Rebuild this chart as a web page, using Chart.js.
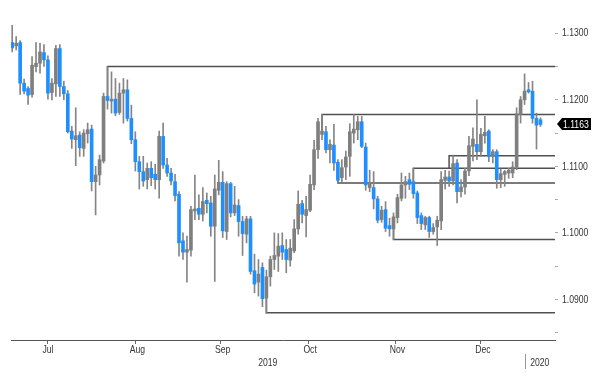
<!DOCTYPE html>
<html><head><meta charset="utf-8">
<script src="https://cdn.jsdelivr.net/npm/chart.js@4.4.1/dist/chart.umd.min.js"></script>
<style>html,body{margin:0;padding:0;background:#fff;}#wrap{width:600px;height:380px;}</style>
</head><body><div id="wrap"><canvas id="c" width="600" height="380"></canvas></div>
<script>
// ---- data (EUR/USD daily) ----
const firstDate = '2019-07-03';
const lastDate = '2020-01-06';
const open = [
 1.1286,1.1281,1.1286,1.1225,1.1217,1.1208,1.1250,1.1255,1.1271,1.1260,1.1211,1.1224,1.1277,1.1220,1.1209,1.1153,1.1140,1.1147,1.1127,1.1149,1.1156,
 1.1077,1.1087,1.1108,1.1205,1.1198,1.1201,1.1181,1.1210,1.1215,1.1172,1.1140,1.1107,1.1092,1.1080,1.1097,1.1088,1.1080,1.1145,1.1102,1.1090,1.1077,1.1058,
 1.0988,1.0971,1.0974,1.1033,1.1037,1.1028,1.1049,1.1045,1.1010,1.1064,1.1076,1.1002,1.1074,1.1030,1.1041,1.1017,1.0998,1.1021,1.0943,1.0926,1.0948,
 1.0902,1.0934,1.0960,1.0965,1.0981,1.0975,1.0959,1.0973,1.1006,1.1044,1.1026,1.1034,1.1072,1.1125,1.1148,1.1152,1.1125,1.1132,1.1106,1.1083,1.1099,1.1115,1.1150,
 1.1155,1.1167,1.1129,1.1068,1.1068,1.1051,1.1020,1.1035,1.1011,1.1006,1.1023,1.1052,1.1072,1.1080,1.1077,1.1060,1.1026,1.1012,1.1023,1.1002,1.1009,
 1.1018,1.1079,1.1084,1.1078,1.1105,1.1062,1.1069,1.1093,1.1130,1.1133,1.1122,1.1146,1.1153,1.1115,1.1122,1.1080,1.1088,1.1090,1.1090,1.1099,1.1178,1.1200,
 1.1215,1.1213,1.1172,1.1170];
const high = [
 1.1312,1.1295,1.1289,1.1231,1.1220,1.1265,1.1286,1.1285,1.1283,1.1266,1.1232,1.1282,1.1283,1.1228,1.1214,1.1160,1.1188,1.1152,1.1155,1.1165,1.1162,
 1.1100,1.1117,1.1210,1.1250,1.1242,1.1232,1.1225,1.1232,1.1230,1.1192,1.1152,1.1115,1.1115,1.1105,1.1107,1.1103,1.1153,1.1165,1.1112,1.1097,1.1088,1.1062,
 1.1000,1.0995,1.1040,1.1087,1.1057,1.1068,1.1060,1.1055,1.1087,1.1109,1.1092,1.1077,1.1076,1.1070,1.1050,1.1025,1.1025,1.1025,1.0968,1.0960,1.0955,
 1.0944,1.0965,1.1000,1.0999,1.1000,1.0990,1.0990,1.1020,1.1063,1.1049,1.1055,1.1087,1.1139,1.1172,1.1178,1.1160,1.1140,1.1163,1.1110,1.1110,1.1123,1.1164,1.1178,
 1.1175,1.1175,1.1135,1.1094,1.1092,1.1055,1.1040,1.1047,1.1022,1.1030,1.1058,1.1090,1.1085,1.1090,1.1097,1.1063,1.1030,1.1025,1.1025,1.1014,1.1025,
 1.1092,1.1094,1.1093,1.1117,1.1110,1.1080,1.1097,1.1145,1.1158,1.1200,1.1157,1.1175,1.1155,1.1125,1.1125,1.1096,1.1094,1.1097,1.1107,1.1188,1.1205,1.1239,
 1.1226,1.1228,1.1180,1.1173];
const low = [
 1.1272,1.1275,1.1208,1.1209,1.1193,1.1204,1.1242,1.1240,1.1250,1.1201,1.1200,1.1205,1.1205,1.1200,1.1150,1.1127,1.1101,1.1115,1.1115,1.1135,1.1063,
 1.1027,1.1072,1.1105,1.1186,1.1180,1.1176,1.1178,1.1165,1.1168,1.1134,1.1093,1.1066,1.1070,1.1066,1.1071,1.1066,1.1052,1.1097,1.1085,1.1072,1.1048,1.0965,
 1.0960,1.0926,1.0965,1.1020,1.1020,1.1018,1.1030,1.0995,1.0927,1.1057,1.0993,1.0990,1.1024,1.1026,1.0995,1.0966,1.0985,1.0938,1.0910,1.0905,1.0889,
 1.0879,1.0920,1.0945,1.0942,1.0960,1.0940,1.0950,1.0970,1.0998,1.1015,1.0994,1.1032,1.1065,1.1112,1.1140,1.1120,1.1105,1.1094,1.1074,1.1076,1.1080,1.1085,1.1135,
 1.1140,1.1128,1.1064,1.1062,1.1036,1.1015,1.1016,1.1002,1.0995,1.0990,1.1015,1.1048,1.1052,1.1065,1.1052,1.1014,1.1005,1.1005,1.0993,1.0998,1.0981,
 1.1005,1.1066,1.1070,1.1072,1.1045,1.1054,1.1058,1.1086,1.1108,1.1110,1.1115,1.1135,1.1107,1.1105,1.1067,1.1068,1.1070,1.1082,1.1083,1.1095,1.1165,1.1193,
 1.1210,1.1165,1.1126,1.1160];
const close = [
 1.1278,1.1285,1.1225,1.1213,1.1207,1.1252,1.1255,1.1272,1.1260,1.1210,1.1225,1.1277,1.1220,1.1209,1.1152,1.1141,1.1146,1.1128,1.1150,1.1155,1.1077,
 1.1087,1.1110,1.1205,1.1199,1.1201,1.1180,1.1210,1.1215,1.1172,1.1140,1.1107,1.1092,1.1078,1.1097,1.1083,1.1080,1.1145,1.1102,1.1090,1.1078,1.1056,1.0985,
 1.0971,1.0975,1.1035,1.1036,1.1028,1.1047,1.1044,1.1010,1.1066,1.1076,1.1003,1.1074,1.1030,1.1042,1.1017,1.0999,1.1021,1.0942,1.0923,1.0938,1.0901,
 1.0934,1.0960,1.0966,1.0980,1.0971,1.0960,1.0977,1.1006,1.1043,1.1028,1.1035,1.1073,1.1125,1.1167,1.1153,1.1125,1.1133,1.1105,1.1079,1.1098,1.1114,1.1152,1.1156,
 1.1167,1.1130,1.1072,1.1073,1.1051,1.1019,1.1034,1.1007,1.1006,1.1024,1.1053,1.1072,1.1077,1.1073,1.1059,1.1023,1.1014,1.1023,1.1002,1.1008,1.1019,
 1.1080,1.1084,1.1078,1.1104,1.1062,1.1069,1.1093,1.1131,1.1141,1.1122,1.1148,1.1151,1.1115,1.1122,1.1080,1.1089,1.1092,1.1094,1.1099,1.1179,1.1200,1.1213,
 1.1212,1.1172,1.1162,1.1163];

// horizontal support / resistance lines
const levelValues = [1.1250, 1.1178, 1.1116, 1.1097, 1.1075, 1.0990, 1.0880];
const levelFrom   = ['2019-08-06','2019-10-21','2019-12-04','2019-11-21','2019-10-25','2019-11-14','2019-10-01'];
const levelAnchor = [1.1205, 1.1150, 1.1097, 1.1077, 1.1105, 1.1010, 1.0902];

const monthLabels = ['Jul','Aug','Sep','Oct','Nov','Dec'];
const yearLabels = ['2019','2020'];
const priceLabels = [1.09, 1.10, 1.11, 1.12, 1.13];
const priceMinor = [1.085, 1.095, 1.105, 1.115, 1.125];

// ---- calendar of trading days ----
function tradingDays(from, to){
  const out=[]; let d=new Date(from+'T00:00:00Z'); const e=new Date(to+'T00:00:00Z');
  while(d<=e){ const w=d.getUTCDay(); if(w!==0&&w!==6) out.push(d.toISOString().slice(0,10)); d=new Date(d.getTime()+86400000); }
  return out;
}
const calendar = tradingDays('2019-07-01', lastDate);
const startIdx = calendar.indexOf(firstDate);
const dates = calendar.slice(startIdx);
const xOf = k => startIdx + k;
const idxOfDate = d => calendar.indexOf(d);

const monthKeys = ['2019-07','2019-08','2019-09','2019-10','2019-11','2019-12'];
const monthIdx = m => calendar.map((d,i)=>d.startsWith(m)?i:-1).filter(i=>i>=0);
const monthCenters = monthKeys.map(m=>{ const ids=monthIdx(m); return (ids[0]+ids[ids.length-1])/2; });
const monthEnds = monthKeys.map(m=>{ const ids=monthIdx(m); return ids[ids.length-1]; });
const yearEnd = monthEnds[monthEnds.length-1];

const X_MIN = 1.70, X_MAX = 138.66;
const FONT = '11.5px "Liberation Sans", Arial, sans-serif';
const SX = 0.75;
const TXT = '#333';
const GREY = '#7f7f7f', BLUE = '#1e8fff';

const levelSets = levelValues.map((v,j)=>({
  type:'line',
  data:[{x:idxOfDate(levelFrom[j]), y:levelAnchor[j]},{x:idxOfDate(levelFrom[j]), y:v},{x:X_MAX, y:v}],
  borderColor:'#505050', borderWidth:1.5, pointRadius:0, tension:0, fill:false, order:3
}));

function txt(ctx, s, x, y, align){
  ctx.save(); ctx.translate(x, y); ctx.scale(SX, 1);
  ctx.textAlign = align; ctx.textBaseline = 'middle'; ctx.fillText(s, 0, 0);
  ctx.restore();
}

const decor = {
  id:'decor',
  afterDraw(chart){
    const {ctx, scales:{x,y}, chartArea:a} = chart;
    ctx.save();
    ctx.font = FONT; ctx.fillStyle = TXT;
    // month labels
    monthCenters.forEach((v,i)=> txt(ctx, monthLabels[i], x.getPixelForValue(v), a.bottom+10, 'center'));
    // year labels + separator
    const yb = x.getPixelForValue(yearEnd);
    txt(ctx, yearLabels[0], (a.left+yb)/2, a.bottom+23, 'center');
    txt(ctx, yearLabels[1], (yb+a.right)/2, a.bottom+23, 'center');
    ctx.strokeStyle='#999'; ctx.lineWidth=1;
    ctx.beginPath(); ctx.moveTo(Math.round(yb)+0.5, a.bottom+14); ctx.lineTo(Math.round(yb)+0.5, a.bottom+29); ctx.stroke();
    // price labels
    priceLabels.forEach(v => txt(ctx, v.toFixed(4), a.right+7, y.getPixelForValue(v), 'left'));
    // last price tag
    const last = close[close.length-1];
    const py = Math.round(y.getPixelForValue(last));
    const x0 = a.right+2;
    ctx.fillStyle='#000';
    ctx.beginPath(); ctx.moveTo(x0,py); ctx.lineTo(x0+5,py-6); ctx.lineTo(x0+34,py-6); ctx.lineTo(x0+34,py+6); ctx.lineTo(x0+5,py+6); ctx.closePath(); ctx.fill();
    ctx.fillStyle='#fff';
    txt(ctx, last.toFixed(4), x0+6, py+0.5, 'left');
    ctx.restore();
  }
};

new Chart(document.getElementById('c'), {
  type:'bar',
  data:{ datasets:[
    ...levelSets,
    { type:'bar', data: dates.map((d,k)=>({x:xOf(k), y:[low[k], high[k]]})), backgroundColor:'#858585', barThickness:1, grouped:false, order:2 },
    { type:'bar', data: dates.map((d,k)=>({x:xOf(k), y:[open[k], close[k]]})),
      backgroundColor: c => close[c.dataIndex] >= open[c.dataIndex] ? GREY : BLUE,
      barThickness:3, minBarLength:1.5, grouped:false, order:1 }
  ]},
  options:{
    animation:false, responsive:false, maintainAspectRatio:false,
    layout:{padding:{left:11, top:0, right:0, bottom:0}},
    plugins:{legend:{display:false}, tooltip:{enabled:false}},
    scales:{
      x:{ type:'linear', min:X_MIN, max:X_MAX, offset:false,
          grid:{display:true, drawOnChartArea:false, drawTicks:true, tickLength:4, color:'#666'},
          border:{display:true, color:'#555', width:1},
          afterBuildTicks: ax => { ax.ticks = monthEnds.map(v=>({value:v})); },
          ticks:{ display:false },
          afterFit: s => { s.height = 40; s.paddingLeft = 0; s.paddingRight = 0; } },
      y:{ position:'right', min:1.0839, max:1.1350,
          afterBuildTicks: ax => { ax.ticks = [...priceMinor, ...priceLabels].sort((p,q)=>p-q).map(v=>({value:v})); },
          ticks:{ display:false },
          grid:{drawOnChartArea:false, drawTicks:true, tickLength:3, color:'#aaa'},
          border:{display:false},
          afterFit: s => { s.width = 45; s.paddingTop = 0; s.paddingBottom = 0; } }
    }
  },
  plugins:[decor]
});
</script>
</body></html>
